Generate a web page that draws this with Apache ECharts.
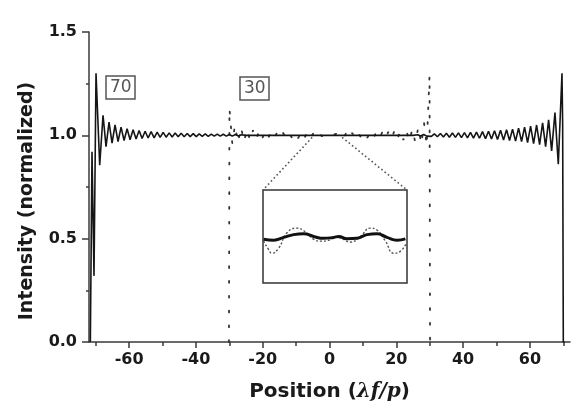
<!DOCTYPE html>
<html>
<head>
<meta charset="utf-8">
<script src="https://cdn.jsdelivr.net/npm/echarts@6/dist/echarts.min.js"></script>
<style>
html, body { margin: 0; padding: 0; background: #fff; }
#chart { width: 578px; height: 415px; }
</style>
</head>
<body>
<div id="chart"></div>
<script>
// N = 70 curve (solid), x positions and normalized intensity
var solidX = [-71.6, -71.1, -70.5, -69.9, -68.8, -67.8, -66.9, -66.0, -65.1, -64.2, -63.3, -62.4, -61.5, -60.6,
    -59.7, -58.8, -57.9, -57.0, -56.1, -55.2, -54.3, -53.4, -52.5, -51.6, -50.7, -49.8, -48.9, -48.0,
    -47.1, -46.2, -45.3, -44.4, -43.5, -42.6, -41.7, -40.8, -39.9, -39.0, -38.1, -37.2, -36.3, -35.4,
    -34.5, -33.6, -32.7, -31.8, -30.9, -30.0, -29.1, -28.2, -27.3, -26.4, -25, -20, -15, -10, -5, 0,
    5, 10, 15, 20, 25, 26.4, 27.3, 28.2, 29.1, 29.6, 30.5, 31.4, 32.3, 33.2, 34.1, 35.0, 35.9, 36.8,
    37.7, 38.6, 39.5, 40.4, 41.3, 42.2, 43.1, 44.0, 44.9, 45.8, 46.7, 47.6, 48.5, 49.4, 50.3, 51.2,
    52.1, 53.0, 53.9, 54.8, 55.7, 56.6, 57.5, 58.4, 59.3, 60.2, 61.1, 62.0, 62.9, 63.8, 64.7, 65.6,
    66.5, 67.5, 68.5, 69.6, 69.8, 70.0, 70.4];
var solidY = [0, 0.92, 0.32, 1.30, 0.855, 1.097, 0.945, 1.064, 0.962, 1.05, 0.97, 1.04, 0.975, 1.032,
    0.979, 1.027, 0.982, 1.023, 0.985, 1.02, 0.987, 1.018, 0.988, 1.016, 0.99, 1.014, 0.991, 1.012,
    0.992, 1.011, 0.993, 1.01, 0.993, 1.009, 0.994, 1.008, 0.994, 1.007, 0.995, 1.007, 0.995, 1.006,
    0.996, 1.006, 0.996, 1.005, 0.996, 1.004, 0.996, 1.004, 0.997, 1.003, 1.0, 1.0, 1.0, 1.0, 1.0, 1.0,
    1.0, 1.0, 1.0, 1.0, 1.0, 1.003, 0.997, 1.004, 0.996, 1.004, 0.995, 1.007, 0.993, 1.009, 0.992, 1.01,
    0.991, 1.011, 0.99, 1.012, 0.989, 1.013, 0.988, 1.014, 0.987, 1.016, 0.986, 1.018, 0.984, 1.02,
    0.982, 1.022, 0.98, 1.025, 0.977, 1.027, 0.975, 1.03, 0.972, 1.035, 0.97, 1.04, 0.965, 1.045,
    0.96, 1.05, 0.955, 1.06, 0.945, 1.075, 0.925, 1.11, 0.86, 1.30, 1.06, 0, 0];

// N = 30 curve (dotted)
var dottedX = [-30.1, -29.95, -29.1, -28.3, -27.4, -26.5, -25.6, -24.7, -23.8, -22.9, -22.0, -21.1, -20.2,
    -19.3, -18.4, -17.5, -16.6, -15.7, -14.8, -13.9, -13.0, -12.1, -11.2, -10.3, -9.4, -8.5, -7.6, -6.7,
    -5.8, -4.9, -4.0, -3.1, -2.2, -1.3, -0.4, 0.5, 1.4, 2.3, 3.2, 4.1, 5.0, 5.9, 6.8, 7.7, 8.6, 9.5,
    10.4, 11.3, 12.2, 13.1, 14.0, 14.9, 15.8, 16.7, 17.6, 18.5, 19.4, 20.3, 21.2, 22.1, 23.0, 23.9,
    24.8, 25.7, 26.6, 27.5, 28.3, 29.1, 29.95, 30.1];
var dottedY = [0, 1.13, 0.96, 1.05, 0.965, 1.04, 0.97, 1.03, 0.975, 1.025, 0.98, 1.02, 0.983,
    1.017, 0.986, 1.015, 0.987, 1.013, 0.988, 1.012, 0.988, 1.012, 0.987, 1.012, 0.986, 1.013, 0.985, 1.012,
    0.984, 1.008, 0.984, 1.005, 0.996, 0.998, 0.996, 0.994, 1.004, 1.009, 0.995, 0.983, 1.012, 0.986, 1.012, 0.987, 1.012, 0.988,
    1.012, 0.988, 1.013, 0.987, 1.014, 0.986, 1.015, 0.985, 1.017, 0.983, 1.02, 0.98, 1.022, 0.977, 1.025, 0.972,
    1.03, 0.965, 1.04, 0.957, 1.06, 0.95, 1.29, 0];

// inset (zoom around the centre)
var insetRange = [-5.2, 3.8];
var insetYRange = [0.95, 1.05];
var insetSolidX = [-5.16, -4.53, -3.91, -3.28, -2.66, -2.03, -1.41, -0.78, -0.47, 0.05, 0.675, 1.3, 1.925, 2.55, 3.175, 3.7];
var insetSolidY = [0.997, 0.996, 0.999, 1.002, 1.003, 1.0, 0.998, 0.999, 1.0, 0.9975, 0.998, 1.002, 1.003, 0.999, 0.996, 0.9975];
var insetDotX = [-5.16, -4.85, -4.64, -4.22, -3.7, -3.075, -2.55, -2.03, -1.62, -1.1, -0.68, -0.26, 0.26, 0.88, 1.51, 1.925, 2.45, 2.97, 3.38, 3.76];
var insetDotY = [0.995, 0.986, 0.982, 0.9875, 1.004, 1.009, 1.005, 0.997, 0.995, 0.996, 0.9995, 0.9975, 0.994, 1.0, 1.009, 1.007, 0.995, 0.982, 0.984, 0.993];

var xTicks = [-60, -40, -20, 0, 20, 40, 60];
var xMinorTicks = [-70, -50, -30, -10, 10, 30, 50, 70];
var labels = [{ text: '70', left: 106, top: 76 }, { text: '30', left: 240, top: 77 }];

function zip(xs, ys) {
    return xs.map(function (x, i) { return [x, ys[i]]; });
}

var axisColor = '#3a3a3a';
var tickFont = { color: '#1a1a1a', fontSize: 16, fontWeight: 'bold', fontFamily: 'DejaVu Sans' };

var myChart = echarts.init(document.getElementById('chart'));
var option = {
    animation: false,
    backgroundColor: '#fff',
    title: labels.map(function (l) {
        return {
            text: l.text, left: l.left, top: l.top,
            padding: [3, 4],
            borderColor: '#555', borderWidth: 1.5,
            textStyle: { color: '#555', fontSize: 17, fontWeight: 'normal', fontFamily: 'DejaVu Sans' }
        };
    }),
    grid: [
        { left: 89, right: 8, top: 32, bottom: 73 },
        { left: 263, top: 190, width: 144, height: 93, show: true, backgroundColor: '#fff', borderColor: '#333', borderWidth: 1.5, z: 5 }
    ],
    xAxis: [
        {
            type: 'value', gridIndex: 0, min: -72, max: 72, position: 'bottom',
            name: 'Position ({i|λf/p})', nameLocation: 'middle', nameGap: 40,
            nameTextStyle: {
                color: '#1a1a1a', fontSize: 20, fontWeight: 'bold', fontFamily: 'DejaVu Sans',
                rich: { i: { fontSize: 20, fontWeight: 'bold', fontStyle: 'italic', fontFamily: 'DejaVu Serif', color: '#1a1a1a' } }
            },
            axisLine: { show: true, onZero: false, lineStyle: { color: axisColor, width: 1.5 } },
            axisTick: { show: true, length: 6, customValues: xTicks, lineStyle: { color: axisColor, width: 1.5 } },
            axisLabel: { customValues: xTicks, margin: 10, ...tickFont },
            splitLine: { show: false }
        },
        {
            type: 'value', gridIndex: 0, min: -72, max: 72, position: 'bottom', offset: 0,
            axisLine: { show: false, onZero: false },
            axisTick: { show: true, length: 4, customValues: xMinorTicks, lineStyle: { color: axisColor, width: 1.5 } },
            axisLabel: { show: false },
            splitLine: { show: false }
        },
        { type: 'value', gridIndex: 1, min: insetRange[0], max: insetRange[1], show: false }
    ],
    yAxis: [
        {
            type: 'value', gridIndex: 0, min: 0, max: 1.5, interval: 0.5, position: 'left',
            name: 'Intensity (normalized)', nameLocation: 'middle', nameGap: 52,
            nameTextStyle: { color: '#1a1a1a', fontSize: 19, fontWeight: 'bold', fontFamily: 'DejaVu Sans', padding: [0, 28, 0, 0] },
            axisLine: { show: true, onZero: false, lineStyle: { color: axisColor, width: 1.5 } },
            axisTick: { show: true, length: 7, lineStyle: { color: axisColor, width: 1.5 } },
            minorTick: { show: true, splitNumber: 2, length: 3, lineStyle: { color: axisColor, width: 1.5 } },
            axisLabel: { margin: 12, formatter: function (v) { return v.toFixed(1); }, ...tickFont },
            splitLine: { show: false }
        },
        { type: 'value', gridIndex: 1, min: insetYRange[0], max: insetYRange[1], show: false }
    ],
    series: [
        {
            type: 'line', xAxisIndex: 0, yAxisIndex: 0, data: zip(dottedX, dottedY),
            showSymbol: false, sampling: 'none',
            lineStyle: { color: '#333', width: 1.8, type: [1.8, 13], cap: 'round' }
        },
        {
            type: 'line', xAxisIndex: 0, yAxisIndex: 0, data: zip(solidX, solidY),
            showSymbol: false, sampling: 'none',
            lineStyle: { color: '#151515', width: 1.6 }
        },
        {
            type: 'line', xAxisIndex: 2, yAxisIndex: 1, data: zip(insetDotX, insetDotY),
            showSymbol: false, smooth: true, z: 6,
            lineStyle: { color: '#555', width: 1.4, type: [2, 2] }
        },
        {
            type: 'line', xAxisIndex: 2, yAxisIndex: 1, data: zip(insetSolidX, insetSolidY),
            showSymbol: false, smooth: true, z: 7,
            lineStyle: { color: '#111', width: 3 }
        }
    ]
};
myChart.setOption(option);

// dotted connectors from the zoomed region to the inset corners
var fromL = myChart.convertToPixel({ xAxisIndex: 0, yAxisIndex: 0 }, [insetRange[0], 0.99]);
var fromR = myChart.convertToPixel({ xAxisIndex: 0, yAxisIndex: 0 }, [insetRange[1], 0.99]);
var toL = myChart.convertToPixel({ xAxisIndex: 2, yAxisIndex: 1 }, [insetRange[0], insetYRange[1]]);
var toR = myChart.convertToPixel({ xAxisIndex: 2, yAxisIndex: 1 }, [insetRange[1], insetYRange[1]]);
var connStyle = { stroke: '#555', lineWidth: 1.6, lineDash: [1.6, 2.6] };
myChart.setOption({
    graphic: [
        { type: 'line', z: 20, shape: { x1: fromL[0], y1: fromL[1], x2: toL[0], y2: toL[1] }, style: connStyle },
        { type: 'line', z: 20, shape: { x1: fromR[0], y1: fromR[1], x2: toR[0], y2: toR[1] }, style: connStyle }
    ]
});
</script>
</body>
</html>
